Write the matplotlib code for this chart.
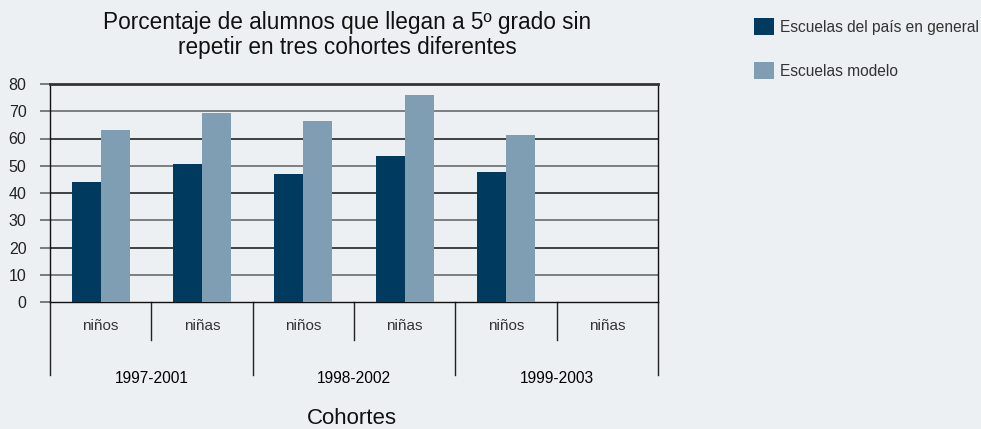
import numpy as np
import matplotlib
matplotlib.use("Agg")
import matplotlib.pyplot as plt
from matplotlib.patches import Patch

plt.rcParams['font.family'] = ['Liberation Sans', 'DejaVu Sans']

cohorts = ['1997-2001', '1998-2002', '1999-2003']
sexes = ['niños', 'niñas']
general = [44.0, 50.6, 47.0, 53.6, 47.7, np.nan]
modelo = [63.1, 69.5, 66.4, 76.1, 61.3, np.nan]
series_names = ['Escuelas del país en general', 'Escuelas modelo']
yticks = [0, 10, 20, 30, 40, 50, 60, 70, 80]

title = 'Porcentaje de alumnos que llegan a 5º grado sin\nrepetir en tres cohortes diferentes'
xlabel = 'Cohortes'

bg = '#ECF0F3'
c_dark = '#003B5F'
c_light = '#7F9DB3'

fig = plt.figure(figsize=(9.81, 4.29), dpi=100, facecolor=bg)
ax = fig.add_axes([50/981, 1 - 302/429, 608/981, 218/429])
ax.set_facecolor(bg)

n = len(general)
x = np.arange(n)
w = 0.287
ax.bar(x - w/2, general, width=w, color=c_dark, zorder=3)
ax.bar(x + w/2, modelo, width=w, color=c_light, zorder=3)

ax.set_xlim(-0.5, n - 0.5)
ax.set_ylim(0, 80)
ax.set_yticks(yticks)
ax.tick_params(axis='y', length=7, width=1.2, pad=10, labelsize=11.5,
               color='#666666', labelcolor='#222222')
ax.set_xticks([])

for i, t in enumerate(yticks[1:-1]):
    ax.axhline(t, color='#222222' if i % 2 == 1 else '#6a6a6a', lw=1.2, zorder=1)

for s in ['left', 'bottom', 'right']:
    ax.spines[s].set_color('#111111')
    ax.spines[s].set_linewidth(1.0)
ax.spines['top'].set_color('#333333')
ax.spines['top'].set_linewidth(2.0)

trans = ax.get_xaxis_transform()
for i in range(n):
    ax.text(i, -0.11, sexes[i % 2], transform=trans, ha='center', va='center',
            fontsize=11, color='#333333')
for k in range(len(cohorts)):
    mid = 2 * k + 0.5
    ax.plot([mid, mid], [0, -0.174], transform=trans, color='#222222', lw=1, clip_on=False)
    ax.text(mid, -0.35, cohorts[k], transform=trans, ha='center', va='center',
            fontsize=11.2, color='#000000')
for k in range(len(cohorts) + 1):
    b = 2 * k - 0.5
    ax.plot([b, b], [0, -0.335], transform=trans, color='#222222', lw=1, clip_on=False)

fig.text(352/981, 1 - 424/429, xlabel, ha='center', va='baseline', fontsize=16, color='#111111')
fig.text(347/981, 1 - 35/429, title, ha='center', va='center', fontsize=16.3,
         color='#111111', linespacing=1.1)

handles = [Patch(facecolor=c_dark), Patch(facecolor=c_light)]
fig.legend(handles, series_names, loc='upper left', bbox_to_anchor=(748/981, 1 - 12/429),
           frameon=False, fontsize=11.2, handlelength=1.3, handleheight=1.3,
           handletextpad=0.35, labelspacing=1.75, borderaxespad=0, labelcolor='#333333')

fig.savefig('out.png', dpi=100, facecolor=bg)
